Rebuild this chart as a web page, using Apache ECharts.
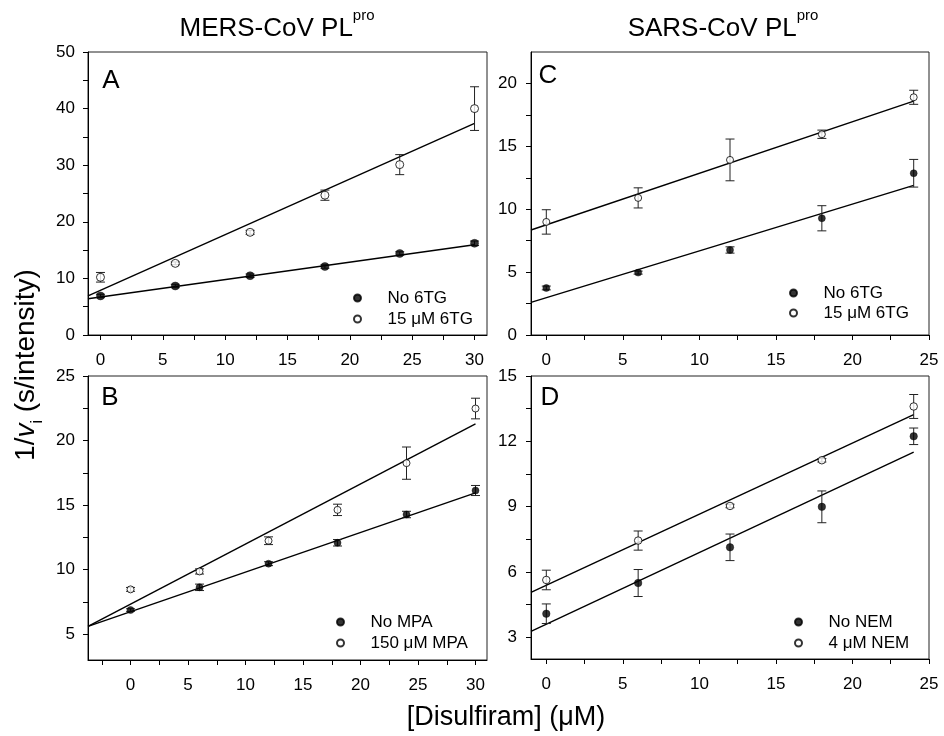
<!DOCTYPE html>
<html><head><meta charset="utf-8">
<script src="https://cdn.jsdelivr.net/npm/echarts@6/dist/echarts.min.js"></script>
<style>html,body{margin:0;padding:0;background:#fff}#c{width:944px;height:736px}</style>
</head><body><div id="c"></div>
<script>
// ---- data ----
const concAB = [0, 6, 12, 18, 24, 30];
const concCD = [0, 6, 12, 18, 24];

const A_no6TG = [6.9, 8.66, 10.48, 12.1, 14.4, 16.2];
const A_no6TG_err = [0.3, 0.3, 0.3, 0.3, 0.3, 0.4];
const A_6TG = [10.2, 12.66, 18.14, 24.7, 30.1, 40.0];
const A_6TG_err = [0.85, 0.25, 0.35, 0.9, 1.77, 3.86];
const A_fit_no = [[-1, 6.4], [30, 15.95]];
const A_fit_6TG = [[-1, 6.9], [30, 37.4]];

const B_noMPA = [6.87, 8.63, 10.46, 12.08, 14.27, 16.13];
const B_noMPA_err = [0.1, 0.25, 0.15, 0.25, 0.25, 0.39];
const B_MPA = [8.47, 9.86, 12.24, 14.63, 18.25, 22.48];
const B_MPA_err = [0.15, 0.2, 0.3, 0.44, 1.25, 0.8];
const B_fit_no = [[-3.7, 5.6], [30, 15.95]];
const B_fit_MPA = [[-3.7, 5.6], [30, 21.3]];

const C_no6TG = [3.74, 4.96, 6.76, 9.28, 12.86];
const C_no6TG_err = [0.15, 0.12, 0.25, 1.0, 1.1];
const C_6TG = [8.99, 10.9, 13.92, 15.96, 18.9];
const C_6TG_err = [0.97, 0.8, 1.66, 0.33, 0.56];
const C_fit_no = [[-1, 2.6], [24, 11.9]];
const C_fit_6TG = [[-1, 8.35], [24, 18.6]];

const D_noNEM = [4.08, 5.49, 7.13, 8.99, 12.23];
const D_noNEM_err = [0.45, 0.62, 0.61, 0.73, 0.38];
const D_NEM = [5.63, 7.44, 9.03, 11.13, 13.6];
const D_NEM_err = [0.45, 0.44, 0.08, 0.08, 0.55];
const D_fit_no = [[-1, 3.27], [24, 11.5]];
const D_fit_NEM = [[-1, 5.06], [24, 13.23]];

const xLabelsAB = [0, 5, 10, 15, 20, 25, 30];
const xTicksA = [0, 2.5, 5, 7.5, 10, 12.5, 15, 17.5, 20, 22.5, 25, 27.5, 30];
const xTicksB = [-2.5, 0, 2.5, 5, 7.5, 10, 12.5, 15, 17.5, 20, 22.5, 25, 27.5, 30];
const xLabelsCD = [0, 5, 10, 15, 20, 25];
const xTicksCD = [0, 2.5, 5, 7.5, 10, 12.5, 15, 17.5, 20, 22.5, 25];
const yLabelsA = [0, 10, 20, 30, 40, 50];
const yTicksA = [0, 5, 10, 15, 20, 25, 30, 35, 40, 45, 50];
const yLabelsB = [5, 10, 15, 20, 25];
const yTicksB = [5, 7.5, 10, 12.5, 15, 17.5, 20, 22.5, 25];
const yLabelsC = [0, 5, 10, 15, 20];
const yTicksC = [0, 2.5, 5, 7.5, 10, 12.5, 15, 17.5, 20];
const yLabelsD = [3, 6, 9, 12, 15];
const yTicksD = [3, 4.5, 6, 7.5, 9, 10.5, 12, 13.5, 15];

const legA = ['No 6TG', '15 μM 6TG'];
const legB = ['No MPA', '150 μM MPA'];
const legC = ['No 6TG', '15 μM 6TG'];
const legD = ['No NEM', '4 μM NEM'];

// ---- build ----
const FONT = "'Liberation Sans', Arial, Helvetica, sans-serif";
const chart = echarts.init(document.getElementById('c'), null, {renderer: 'canvas'});

const grids = [
  {left: 88, top: 52, width: 399, height: 283},
  {left: 88, top: 376, width: 399, height: 284},
  {left: 531, top: 52, width: 398, height: 283},
  {left: 531, top: 376, width: 398, height: 283}
].map(g => Object.assign(g, {show: true, borderColor: '#222', borderWidth: 1, backgroundColor: 'transparent'}));

function xAx(i, min, max, labels, ticks) {
  return {
    type: 'value', gridIndex: i, min: min, max: max,
    axisLine: {show: true, onZero: false, lineStyle: {color: '#000', width: 1}},
    axisTick: {show: true, length: 5, customValues: ticks, lineStyle: {color: '#000'}},
    axisLabel: {customValues: labels, margin: 17, fontSize: 17, color: '#000', fontFamily: FONT},
    splitLine: {show: false}
  };
}
function yAx(i, min, max, labels, ticks, margin) {
  return {
    type: 'value', gridIndex: i, min: min, max: max,
    axisLine: {show: true, onZero: false, lineStyle: {color: '#000', width: 1}},
    axisTick: {show: true, length: 5, customValues: ticks, lineStyle: {color: '#000'}},
    axisLabel: {customValues: labels, margin: margin, fontSize: 17, color: '#000', fontFamily: FONT},
    splitLine: {show: false}
  };
}

function errRender(params, api) {
  const x = api.value(0), y = api.value(1), e = api.value(2);
  const t = api.coord([x, y + e]), b = api.coord([x, y - e]);
  const hw = 4.5;
  const st = {stroke: '#222', lineWidth: 1};
  return {type: 'group', children: [
    {type: 'line', shape: {x1: t[0], y1: t[1], x2: b[0], y2: b[1]}, style: st},
    {type: 'line', shape: {x1: t[0] - hw, y1: t[1], x2: t[0] + hw, y2: t[1]}, style: st},
    {type: 'line', shape: {x1: b[0] - hw, y1: b[1], x2: b[0] + hw, y2: b[1]}, style: st}
  ]};
}

const series = [];
function addPanel(i, xs, filled, filledErr, open, openErr, fitF, fitO, names, size) {
  series.push({type: 'line', xAxisIndex: i, yAxisIndex: i, data: fitF, showSymbol: false, symbol: 'none',
    lineStyle: {color: '#000', width: 1.4}, z: 2, silent: true});
  series.push({type: 'line', xAxisIndex: i, yAxisIndex: i, data: fitO, showSymbol: false, symbol: 'none',
    lineStyle: {color: '#000', width: 1.4}, z: 2, silent: true});
  series.push({type: 'custom', xAxisIndex: i, yAxisIndex: i, renderItem: errRender, z: 3,
    encode: {x: 0, y: 1}, data: xs.map((x, k) => [x, filled[k], filledErr[k]])});
  series.push({type: 'custom', xAxisIndex: i, yAxisIndex: i, renderItem: errRender, z: 3,
    encode: {x: 0, y: 1}, data: xs.map((x, k) => [x, open[k], openErr[k]])});
  series.push({type: 'scatter', name: names[0], xAxisIndex: i, yAxisIndex: i, symbol: 'circle', symbolSize: size,
    itemStyle: {color: '#000', borderColor: '#000', borderWidth: 0.5}, z: 4,
    data: xs.map((x, k) => [x, filled[k]])});
  series.push({type: 'scatter', name: names[1], xAxisIndex: i, yAxisIndex: i, symbol: 'circle', symbolSize: size,
    itemStyle: {color: '#fff', borderColor: '#000', borderWidth: 1}, z: 4,
    data: xs.map((x, k) => [x, open[k]])});
}
addPanel(0, concAB, A_no6TG, A_no6TG_err, A_6TG, A_6TG_err, A_fit_no, A_fit_6TG, legA, 8);
addPanel(1, concAB, B_noMPA, B_noMPA_err, B_MPA, B_MPA_err, B_fit_no, B_fit_MPA, legB, 7);
addPanel(2, concCD, C_no6TG, C_no6TG_err, C_6TG, C_6TG_err, C_fit_no, C_fit_6TG, legC, 7);
addPanel(3, concCD, D_noNEM, D_noNEM_err, D_NEM, D_NEM_err, D_fit_no, D_fit_NEM, legD, 7.5);

function leg(data, left, top, gap) {
  return {show: true, orient: 'vertical', left: left, top: top, padding: 0, itemWidth: 50, itemHeight: 7,
    itemGap: gap, icon: 'circle', selectedMode: false, data: data,
    textStyle: {fontSize: 17, lineHeight: 18, color: '#000', fontFamily: FONT}};
}

const txt = (x, y, text, size, extra) => Object.assign({type: 'text', x: x, y: y, silent: true,
  style: Object.assign({text: text, font: size + 'px ' + FONT, fill: '#000', align: 'center', verticalAlign: 'middle'}, extra || {})});

const titleRich = {
  m: {fontSize: 26, fontFamily: FONT, lineHeight: 34, verticalAlign: 'bottom', fill: '#000'},
  s: {fontSize: 15, fontFamily: FONT, lineHeight: 15, verticalAlign: 'top', fill: '#000'}
};

chart.setOption({
  animation: false,
  backgroundColor: '#fff',
  grid: grids,
  xAxis: [xAx(0, -1, 31, xLabelsAB, xTicksA), xAx(1, -3.7, 31, xLabelsAB, xTicksB),
          xAx(2, -1, 25, xLabelsCD, xTicksCD), xAx(3, -1, 25, xLabelsCD, xTicksCD)],
  yAxis: [yAx(0, 0, 50, yLabelsA, yTicksA, 13), yAx(1, 3, 25, yLabelsB, yTicksB, 13),
          yAx(2, 0, 22.5, yLabelsC, yTicksC, 14), yAx(3, 2, 15, yLabelsD, yTicksD, 14)],
  legend: [leg(legA, 353, 289, 3), leg(legB, 336, 613, 3), leg(legC, 789, 284, 2), leg(legD, 794, 613, 3)],
  series: series,
  graphic: [
    {type: 'text', x: 277, y: 25, silent: true, style: {text: '{m|MERS-CoV PL}{s|pro}', rich: titleRich, align: 'center', verticalAlign: 'middle'}},
    {type: 'text', x: 723, y: 25, silent: true, style: {text: '{m|SARS-CoV PL}{s|pro}', rich: titleRich, align: 'center', verticalAlign: 'middle'}},
    txt(111, 81, 'A', 26), txt(110, 398, 'B', 26), txt(548, 76, 'C', 26), txt(550, 398, 'D', 26),
    {type: 'text', x: 29, y: 365, rotation: Math.PI / 2, silent: true,
      style: {text: '{n|1/}{v|v}{i|i}{n| (s/intensity)}', align: 'center', verticalAlign: 'middle',
        rich: {
          n: {fontSize: 28, fontFamily: FONT, lineHeight: 33, verticalAlign: 'top', fill: '#000'},
          v: {fontSize: 28, fontFamily: FONT, fontStyle: 'italic', lineHeight: 33, verticalAlign: 'top', fill: '#000'},
          i: {fontSize: 16, fontFamily: FONT, lineHeight: 15, verticalAlign: 'bottom', fill: '#000'}
        }}},
    txt(506, 718, '[Disulfiram] (μM)', 27)
  ]
});
</script></body></html>
